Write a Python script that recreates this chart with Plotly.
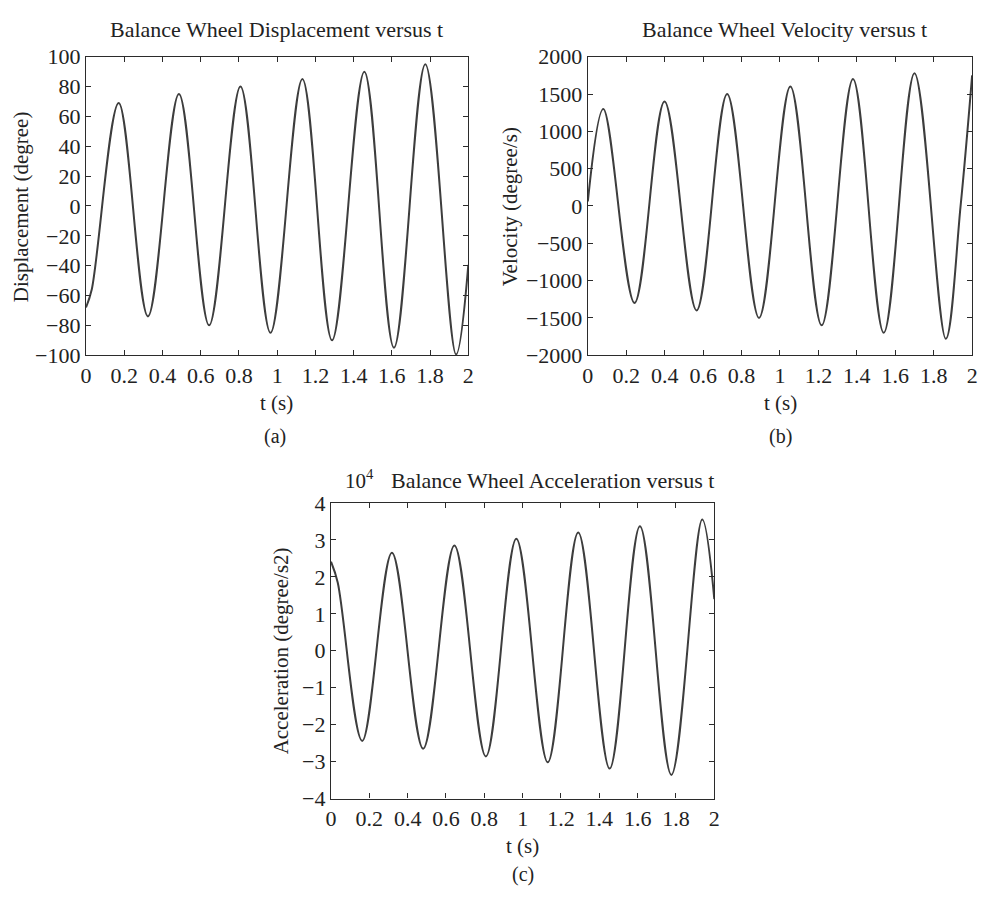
import plotly.graph_objects as go

# ---------------- data ----------------
# (a) displacement, degree  (turning points, plus start/end readings)
t_disp = [0.0, 0.030, 0.171, 0.324, 0.486, 0.644, 0.808, 0.965, 1.132, 1.287,
          1.456, 1.611, 1.775, 1.936, 2.0]
disp = [-68, -56, 69, -74, 75, -80, 80, -85, 85, -90,
        90, -95, 95, -99.5, -39.5]

# (b) velocity, degree/s
t_vel = [0.0, 0.0805, 0.243, 0.399, 0.566, 0.725, 0.891, 1.054, 1.217, 1.380,
         1.540, 1.700, 1.863, 1.940, 2.0]
vel = [60, 1300, -1300, 1400, -1400, 1500, -1500, 1600, -1600, 1700,
       -1700, 1780, -1780, 0, 1750]

# (c) acceleration, in units of 10^4 degree/s2
t_acc = [0.0, 0.035, 0.163, 0.318, 0.481, 0.644, 0.808, 0.967, 1.131, 1.290,
         1.454, 1.612, 1.776, 1.937, 2.0]
acc_1e4 = [2.41, 1.85, -2.44, 2.65, -2.65, 2.85, -2.86, 3.03, -3.02, 3.2,
           -3.19, 3.37, -3.36, 3.55, 1.4]

x_ticks = [0, 0.2, 0.4, 0.6, 0.8, 1, 1.2, 1.4, 1.6, 1.8, 2]
disp_ticks = [-100, -80, -60, -40, -20, 0, 20, 40, 60, 80, 100]
vel_ticks = [-2000, -1500, -1000, -500, 0, 500, 1000, 1500, 2000]
acc_ticks = [-4, -3, -2, -1, 0, 1, 2, 3, 4]

titles = ["Balance Wheel Displacement versus t",
          "Balance Wheel Velocity versus t",
          "Balance Wheel Acceleration versus t"]
y_titles = ["Displacement (degree)", "Velocity (degree/s)", "Acceleration (degree/s2)"]
x_title = "t (s)"
panel_labels = ["(a)", "(b)", "(c)"]

# ---------------- layout helpers ----------------
W, H = 988, 900
FONT = "Liberation Serif, Times New Roman, serif"
LINE = "#3d3d3d"
AX = "#2b2b2b"
TXT = "#222222"


def px(x):
    return x / W


def py(y):
    return 1 - y / H


fig = go.Figure()

for xs, ys, xa, ya_ in [(t_disp, disp, "x", "y"), (t_vel, vel, "x2", "y2"),
                        (t_acc, acc_1e4, "x3", "y3")]:
    fig.add_trace(go.Scatter(x=xs, y=ys, mode="lines", xaxis=xa, yaxis=ya_,
                             hoverinfo="skip",
                             line=dict(color=LINE, width=2, shape="spline", smoothing=1.0)))


def xaxis(dom, anchor):
    return dict(domain=dom, anchor=anchor, range=[0, 2], tickvals=x_ticks,
                ticks="inside", ticklen=5, tickcolor=AX, mirror="allticks",
                showline=True, linecolor=AX, linewidth=1.2, showgrid=False,
                zeroline=False, tickfont=dict(family=FONT, size=22, color=TXT))


def yaxis(dom, anchor, rng, tv):
    return dict(domain=dom, anchor=anchor, range=rng, tickvals=tv,
                ticks="inside", ticklen=5, tickcolor=AX, mirror="allticks",
                showline=True, linecolor=AX, linewidth=1.2, showgrid=False,
                zeroline=False, exponentformat="none",
                tickfont=dict(family=FONT, size=22, color=TXT))


ya = [py(353), py(46)]
yc = [py(809), py(505)]

fig.update_layout(
    width=W, height=H, margin=dict(l=0, r=0, t=0, b=0),
    paper_bgcolor="white", plot_bgcolor="white", showlegend=False,
    xaxis=xaxis([px(81), px(468)], "y"),
    yaxis=yaxis(ya, "x", [-100, 100], disp_ticks),
    xaxis2=xaxis([px(589), px(978)], "y2"),
    yaxis2=yaxis(ya, "x2", [-2000, 2000], vel_ticks),
    xaxis3=xaxis([px(329), px(717)], "y3"),
    yaxis3=yaxis(yc, "x3", [-4, 4], acc_ticks),
)

ann = []


def text(s, x, y, size=21, angle=0):
    ann.append(dict(text=s, x=px(x), y=py(y), xref="paper", yref="paper",
                    xanchor="center", yanchor="middle", showarrow=False,
                    textangle=angle, font=dict(family=FONT, size=size, color=TXT)))


# panel (a)
text(titles[0], 274, 18, 22)
text(y_titles[0], 16, 200, 21, -90)
text(x_title, 274, 402, 21)
text(panel_labels[0], 272, 437, 20)
# panel (b)
text(titles[1], 788, 18, 22)
text(y_titles[1], 511, 200, 21, -90)
text(x_title, 784, 402, 21)
text(panel_labels[1], 784, 437, 20)
# panel (c)
text("10<sup>4</sup>", 358, 481, 21)
text(titles[2], 553, 482, 22)
text(y_titles[2], 278, 657, 21, -90)
text(x_title, 523, 858, 21)
text(panel_labels[2], 523, 887, 20)

fig.update_layout(annotations=ann)

fig.write_html("out.html")
